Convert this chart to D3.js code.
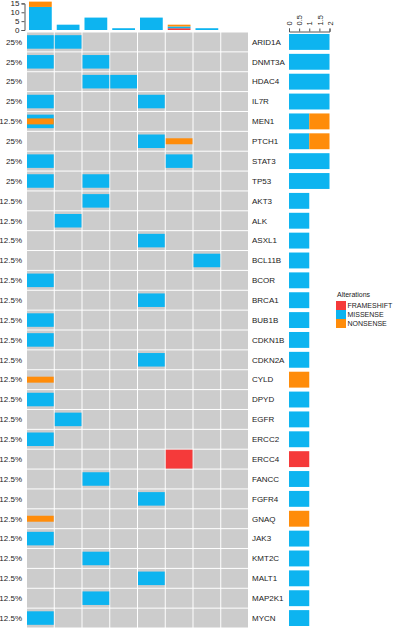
<!DOCTYPE html>
<html>
<head>
<meta charset="utf-8">
<script src="https://cdn.jsdelivr.net/npm/d3@7"></script>
<style>
  body { margin: 0; background: white; }
  svg text { font-family: "Liberation Sans", Arial, sans-serif; fill: #222; }
</style>
</head>
<body>
<div id="viz-container"></div>
<script>
// genes, top to bottom
let genes = ["ARID1A", "DNMT3A", "HDAC4", "IL7R", "MEN1", "PTCH1", "STAT3", "TP53",
             "AKT3", "ALK", "ASXL1", "BCL11B", "BCOR", "BRCA1", "BUB1B", "CDKN1B",
             "CDKN2A", "CYLD", "DPYD", "EGFR", "ERCC2", "ERCC4", "FANCC", "FGFR4",
             "GNAQ", "JAK3", "KMT2C", "MALT1", "MAP2K1", "MYCN"];
let nSamples = 8;

// [gene, sample column]
let frameshift = [["ERCC4", 5]];
let missense = [
  ["ARID1A", 0], ["ARID1A", 1], ["DNMT3A", 0], ["DNMT3A", 2], ["HDAC4", 2], ["HDAC4", 3],
  ["IL7R", 0], ["IL7R", 4], ["MEN1", 0], ["PTCH1", 4], ["STAT3", 0], ["STAT3", 5],
  ["TP53", 0], ["TP53", 2], ["AKT3", 2], ["ALK", 1], ["ASXL1", 4], ["BCL11B", 6],
  ["BCOR", 0], ["BRCA1", 4], ["BUB1B", 0], ["CDKN1B", 0], ["CDKN2A", 4], ["DPYD", 0],
  ["EGFR", 1], ["ERCC2", 0], ["FANCC", 2], ["FGFR4", 4], ["JAK3", 0], ["KMT2C", 2],
  ["MALT1", 4], ["MAP2K1", 2], ["MYCN", 0]
];
let nonsense = [["MEN1", 0], ["PTCH1", 5], ["CYLD", 0], ["GNAQ", 0]];

let types = ["FRAMESHIFT", "MISSENSE", "NONSENSE"];
let colors = {FRAMESHIFT: "#f53a3a", MISSENSE: "#0db4f0", NONSENSE: "#ff8c0a"};
// height of each kind of mark, as a share of the row
let heights = {FRAMESHIFT: 0.95, MISSENSE: 0.68, NONSENSE: 0.3};

let topTicks = [0, 5, 10, 15];
let rightTicks = [0, 0.5, 1, 1.5, 2];

let viz = d3.select("#viz-container")
              .append("svg")
                .attr("width", 398)
                .attr("height", 629)
;

let x = d3.scaleBand().domain(d3.range(nSamples)).range([26.5, 248.5]);
let y = d3.scaleBand().domain(genes).range([32, 628]);
let yTop = d3.scaleLinear().domain([0, 15]).range([30, 3.4]);
let xRight = d3.scaleLinear().domain([0, 2]).range([289, 329.5]);

let all = [];
frameshift.forEach(d => all.push({gene: d[0], s: d[1], type: "FRAMESHIFT"}));
missense.forEach(d => all.push({gene: d[0], s: d[1], type: "MISSENSE"}));
nonsense.forEach(d => all.push({gene: d[0], s: d[1], type: "NONSENSE"}));

// gray background cells
let cells = [];
genes.forEach(g => d3.range(nSamples).forEach(s => cells.push({gene: g, s: s})));
viz.selectAll(".bg").data(cells).enter().append("rect")
    .attr("class", "bg")
    .attr("x", d => x(d.s) + 0.5)
    .attr("y", d => y(d.gene) + 0.5)
    .attr("width", x.bandwidth() - 1)
    .attr("height", y.bandwidth() - 1)
    .attr("fill", "#cccccc")
;

// alteration marks
viz.selectAll(".alt").data(all).enter().append("rect")
    .attr("class", "alt")
    .attr("x", d => x(d.s) + 0.5)
    .attr("y", d => y(d.gene) + y.bandwidth() * (1 - heights[d.type]) / 2)
    .attr("width", x.bandwidth() - 1)
    .attr("height", d => y.bandwidth() * heights[d.type])
    .attr("fill", d => colors[d.type])
;

// percent labels on the left
viz.selectAll(".pct").data(genes).enter().append("text")
    .attr("class", "pct")
    .attr("x", 22)
    .attr("y", d => y(d) + y.bandwidth() / 2)
    .attr("dy", "0.35em")
    .attr("text-anchor", "end")
    .style("font-size", "8px")
    .text(g => {
      let n = new Set(all.filter(a => a.gene == g).map(a => a.s)).size;
      return (100 * n / nSamples) + "%";
    })
;

// gene labels
viz.selectAll(".gene").data(genes).enter().append("text")
    .attr("class", "gene")
    .attr("x", 252)
    .attr("y", d => y(d) + y.bandwidth() / 2)
    .attr("dy", "0.35em")
    .style("font-size", "8px")
    .text(d => d)
;

// top bar chart: alterations per sample
let perSample = d3.range(nSamples).map(s => {
  let row = {s: s};
  types.forEach(t => row[t] = all.filter(a => a.s == s && a.type == t).length);
  return row;
});
let topStack = d3.stack().keys(types)(perSample);
let bw = x.bandwidth() * 0.82;
viz.selectAll(".topLayer").data(topStack).enter().append("g")
    .attr("fill", d => colors[d.key])
  .selectAll("rect").data(d => d).enter().append("rect")
    .attr("x", d => x(d.data.s) + (x.bandwidth() - bw) / 2)
    .attr("y", d => yTop(d[1]))
    .attr("width", bw)
    .attr("height", d => yTop(d[0]) - yTop(d[1]))
;

let topAxis = viz.append("g")
    .attr("transform", "translate(24.5,0)")
    .call(d3.axisLeft(yTop).tickValues(topTicks).tickSize(3).tickPadding(2));
topAxis.selectAll("text").style("font-size", "8px").attr("fill", "#222");
topAxis.selectAll("line, path").attr("stroke", "#555");

// right bar chart: alterations per gene
let perGene = genes.map(g => {
  let row = {gene: g};
  types.forEach(t => row[t] = all.filter(a => a.gene == g && a.type == t).length);
  return row;
});
let rightStack = d3.stack().keys(types)(perGene);
let bh = y.bandwidth() * 0.8;
viz.selectAll(".rightLayer").data(rightStack).enter().append("g")
    .attr("fill", d => colors[d.key])
  .selectAll("rect").data(d => d).enter().append("rect")
    .attr("x", d => xRight(d[0]))
    .attr("y", d => y(d.data.gene) + (y.bandwidth() - bh) / 2)
    .attr("width", d => xRight(d[1]) - xRight(d[0]))
    .attr("height", bh)
;

let rightAxis = viz.append("g")
    .attr("transform", "translate(0,31.5)")
    .call(d3.axisTop(xRight).tickValues(rightTicks).tickSize(3).tickFormat(d => d));
rightAxis.selectAll("line, path").attr("stroke", "#555");
rightAxis.selectAll("text")
    .style("font-size", "7.5px")
    .attr("fill", "#222")
    .attr("text-anchor", "start")
    .attr("transform", "rotate(-90)")
    .attr("x", 6)
    .attr("y", 0)
    .attr("dy", "0.35em")
;

// legend
let legend = viz.append("g").attr("transform", "translate(336,0)");
legend.append("text")
    .attr("x", 1)
    .attr("y", 297)
    .style("font-size", "7px")
    .text("Alterations");
let items = legend.selectAll(".item").data(types).enter().append("g")
    .attr("transform", (d, i) => "translate(0," + (301 + i * 9) + ")");
items.append("rect")
    .attr("width", 10)
    .attr("height", 9)
    .attr("fill", d => colors[d]);
items.append("text")
    .attr("x", 11.5)
    .attr("y", 4.5)
    .attr("dy", "0.35em")
    .style("font-size", "7px")
    .text(d => d);
</script>
</body>
</html>
